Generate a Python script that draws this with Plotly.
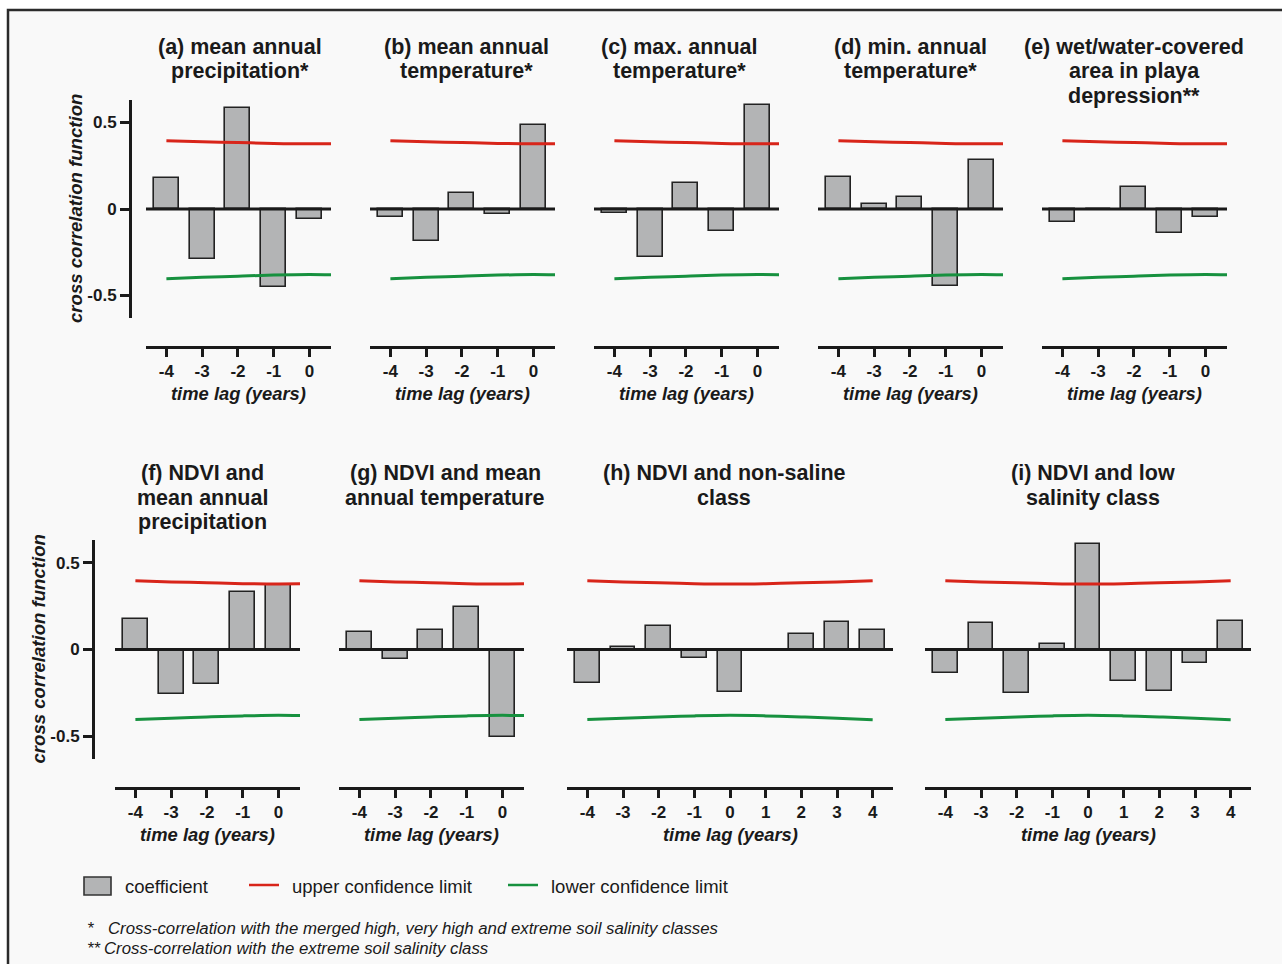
import plotly.graph_objects as go

W, H = 1282, 964
FONT = "Liberation Sans, Arial, Helvetica, sans-serif"
INK = "#1a1a1a"

# ---- data -------------------------------------------------------------
lags_short = [-4, -3, -2, -1, 0]
lags_long = [-4, -3, -2, -1, 0, 1, 2, 3, 4]

coef_a = [0.178, -0.290, 0.581, -0.452, -0.056]
coef_b = [-0.046, -0.183, 0.090, -0.029, 0.485]
coef_c = [-0.025, -0.280, 0.148, -0.130, 0.600]
coef_d = [0.187, 0.029, 0.067, -0.443, 0.283]
coef_e = [-0.073, 0.000, 0.125, -0.137, -0.048]
coef_f = [0.174, -0.255, -0.197, 0.332, 0.372]
coef_g = [0.101, -0.052, 0.113, 0.245, -0.502]
coef_h = [-0.195, 0.015, 0.134, -0.046, -0.243, 0.000, 0.088, 0.159, 0.115]
coef_i = [-0.138, 0.155, -0.253, 0.029, 0.609, -0.180, -0.238, -0.080, 0.163]

# confidence limits defined over the full lag window -4..4
upper_limit = [0.395, 0.389, 0.384, 0.379, 0.377, 0.379, 0.384, 0.389, 0.396]
lower_limit = [-0.403, -0.395, -0.388, -0.382, -0.379, -0.382, -0.388, -0.395, -0.404]

titles = [
    ["(a) mean annual", "precipitation*"],
    ["(b) mean annual", "temperature*"],
    ["(c) max. annual", "temperature*"],
    ["(d) min. annual", "temperature*"],
    ["(e) wet/water-covered", "area in playa", "depression**"],
    ["(f) NDVI and", "mean annual", "precipitation"],
    ["(g) NDVI and mean", "annual temperature"],
    ["(h) NDVI and non-saline", "class"],
    ["(i) NDVI and low", "salinity class"],
]
series = [coef_a, coef_b, coef_c, coef_d, coef_e, coef_f, coef_g, coef_h, coef_i]
lag_sets = [lags_short] * 7 + [lags_long] * 2

legend_labels = ["coefficient", "upper confidence limit", "lower confidence limit"]
footnotes = [
    ("*", "Cross-correlation with the merged high, very high and extreme soil salinity classes"),
    ("**", "Cross-correlation with the extreme soil salinity class"),
]

# ---- layout geometry (pixels) ------------------------------------------
# plot-area left edge, width, title centre
panel_px = [
    (146, 185, 240), (370, 185, 466), (594, 185, 679), (818, 185, 910), (1042, 185, 1134),
    (115, 185, 202), (339, 185, 445), (567, 326, 724), (925, 326, 1093),
]
rows = {
    "top": dict(y0=100, y1=318, xaxis_y=346.5, title_y=47, xtitle_y=393, yaxis_x=130, ytitle_x=75),
    "bottom": dict(y0=540, y1=759, xaxis_y=787.5, title_y=473, xtitle_y=834, yaxis_x=93, ytitle_x=38),
}
row_of = ["top"] * 5 + ["bottom"] * 4
Y_RANGE = [-0.63, 0.63]
TITLE_LINE = 24.5


def fx(px):
    return px / W


def fy(py):
    return 1 - py / H


fig = go.Figure()
shapes = []
annotations = []

bar_fill = "#b3b4b5"
bar_edge = "#222222"
red = "#d8251a"
green = "#17913f"

for k in range(9):
    n = k + 1
    sfx = "" if n == 1 else str(n)
    r = rows[row_of[k]]
    left, width, tcx = panel_px[k]
    lags = lag_sets[k]
    hi = 0.6 if len(lags) == 5 else 4.57
    lo = -4.57

    fig.add_trace(go.Bar(
        x=lags, y=series[k], width=0.7,
        marker=dict(color=bar_fill, line=dict(color=bar_edge, width=1.6)),
        name="coefficient", showlegend=False,
        xaxis="x" + sfx, yaxis="y" + sfx,
    ))
    fig.add_trace(go.Scatter(
        x=lags_long, y=upper_limit, mode="lines", line=dict(color=red, width=3, shape="spline"),
        name="upper confidence limit", showlegend=False,
        xaxis="x" + sfx, yaxis="y" + sfx,
    ))
    fig.add_trace(go.Scatter(
        x=lags_long, y=lower_limit, mode="lines", line=dict(color=green, width=3, shape="spline"),
        name="lower confidence limit", showlegend=False,
        xaxis="x" + sfx, yaxis="y" + sfx,
    ))

    fig.update_layout(**{
        "xaxis" + sfx: dict(
            domain=[fx(left), fx(left + width)], range=[lo, hi],
            anchor="free", position=fy(r["xaxis_y"]),
            showline=True, linewidth=3, linecolor=INK,
            ticks="outside", ticklen=8, tickwidth=2.5, tickcolor=INK,
            tickvals=lags, ticktext=[str(v) for v in lags],
            tickfont=dict(family=FONT, size=17, color=INK, weight="bold"),
            showgrid=False, zeroline=False, fixedrange=True,
        ),
    })
    first_in_row = k in (0, 5)
    if first_in_row:
        yax = dict(
            domain=[fy(r["y1"]), fy(r["y0"])], range=Y_RANGE,
            anchor="free", position=fx(r["yaxis_x"]),
            showline=True, linewidth=3, linecolor=INK,
            ticks="outside", ticklen=9, tickwidth=2.5, tickcolor=INK,
            tickvals=[-0.5, 0, 0.5], ticktext=["-0.5", "0", "0.5"],
            tickfont=dict(family=FONT, size=17, color=INK, weight="bold"),
            showgrid=False, zeroline=False, fixedrange=True,
        )
    else:
        yax = dict(
            domain=[fy(r["y1"]), fy(r["y0"])], range=Y_RANGE,
            anchor="x" + sfx, showline=False, ticks="", showticklabels=False,
            showgrid=False, zeroline=False, fixedrange=True,
        )
    fig.update_layout(**{"yaxis" + sfx: yax})

    # zero reference line across the panel
    shapes.append(dict(
        type="line", xref="x" + sfx + " domain", x0=0, x1=1,
        yref="y" + sfx, y0=0, y1=0, line=dict(color=INK, width=3), layer="above",
    ))

    # panel title, one line at a time for tight leading
    for j, line in enumerate(titles[k]):
        annotations.append(dict(
            text=line, x=fx(tcx), y=fy(r["title_y"] + j * TITLE_LINE),
            xref="paper", yref="paper", xanchor="center", yanchor="middle",
            showarrow=False,
            font=dict(family=FONT, size=21.5, color=INK, weight="bold"),
        ))
    annotations.append(dict(
        text="time lag (years)", x=fx(left + width / 2), y=fy(r["xtitle_y"]),
        xref="paper", yref="paper", xanchor="center", yanchor="middle", showarrow=False,
        font=dict(family=FONT, size=18.4, color=INK, weight="bold", style="italic"),
    ))
    if first_in_row:
        annotations.append(dict(
            text="cross correlation function", x=fx(r["ytitle_x"]),
            y=fy((r["y0"] + r["y1"]) / 2), xref="paper", yref="paper",
            xanchor="center", yanchor="middle", textangle=-90, showarrow=False,
            font=dict(family=FONT, size=18.6, color=INK, weight="bold", style="italic"),
        ))

# outer frame
shapes.insert(0, dict(
    type="rect", xref="paper", yref="paper", x0=fx(8), x1=1.05, y0=fy(10), y1=-0.05,
    line=dict(color="#2b2b2b", width=2.5), fillcolor="#f9f9f9", layer="below",
))

# key: bar swatch, limit lines and their labels
LEG_Y = 886
shapes.append(dict(type="rect", xref="paper", yref="paper",
                   x0=fx(84), x1=fx(111), y0=fy(895), y1=fy(877),
                   fillcolor=bar_fill, line=dict(color="#333333", width=1.6)))
shapes.append(dict(type="line", xref="paper", yref="paper",
                   x0=fx(249), x1=fx(279), y0=fy(LEG_Y - 1), y1=fy(LEG_Y - 1),
                   line=dict(color=red, width=2.5)))
shapes.append(dict(type="line", xref="paper", yref="paper",
                   x0=fx(508), x1=fx(538), y0=fy(LEG_Y - 1), y1=fy(LEG_Y - 1),
                   line=dict(color=green, width=2.5)))
for label, lx in zip(legend_labels, [123, 290, 549]):
    annotations.append(dict(text=label, x=fx(lx), y=fy(LEG_Y), xref="paper", yref="paper",
                            xanchor="left", yanchor="middle", showarrow=False,
                            font=dict(family=FONT, size=18.5, color=INK)))

# footnotes
note_font = dict(family=FONT, size=16.8, color=INK, style="italic")
for (mark, text), mx, tx, py in zip(footnotes, [85, 85], [106, 102], [928, 948]):
    annotations.append(dict(text=mark, x=fx(mx), y=fy(py), xref="paper", yref="paper",
                            xanchor="left", yanchor="middle", showarrow=False, font=note_font))
    annotations.append(dict(text=text, x=fx(tx), y=fy(py), xref="paper", yref="paper",
                            xanchor="left", yanchor="middle", showarrow=False, font=note_font))

fig.update_layout(
    width=W, height=H, margin=dict(l=0, r=0, t=0, b=0),
    paper_bgcolor="white", plot_bgcolor="rgba(0,0,0,0)",
    barmode="overlay", bargap=0, showlegend=False,
    shapes=shapes, annotations=annotations,
)

fig.write_html("out.html")
